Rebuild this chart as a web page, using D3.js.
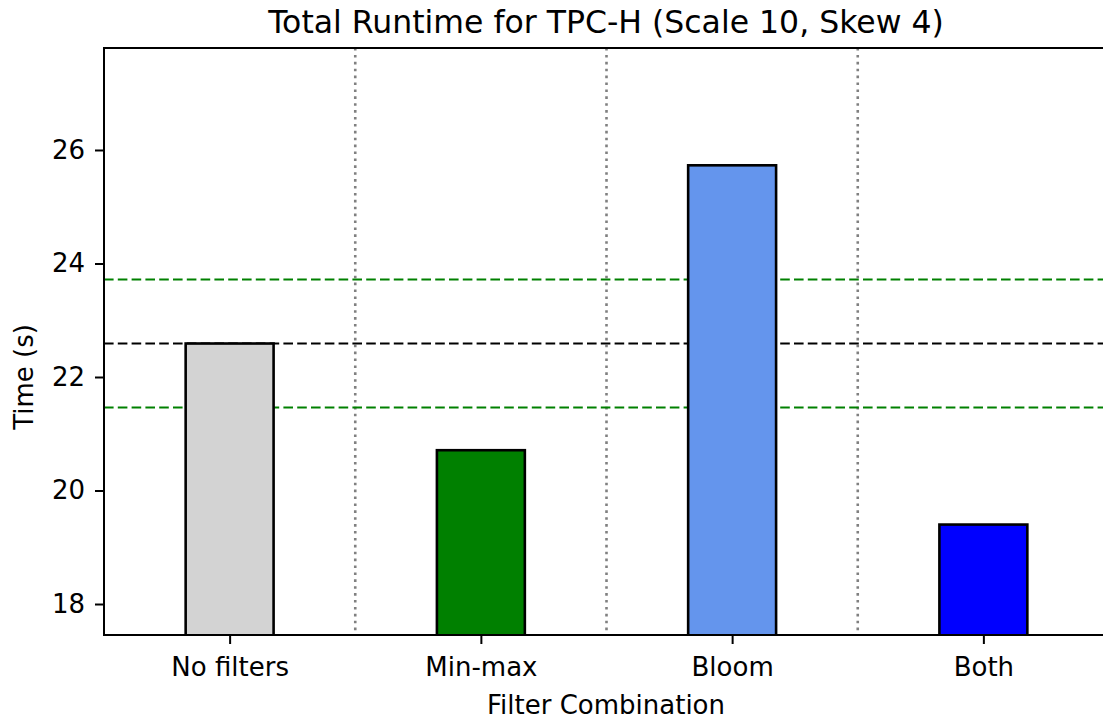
<!DOCTYPE html>
<html lang="en">
<head>
    <meta charset="UTF-8">
    <title>Total Runtime for TPC-H</title>
    <script type="application/javascript" src="https://cdnjs.cloudflare.com/ajax/libs/d3/7.8.5/d3.min.js"></script>
    <style type="text/css">
        body { margin: 0; background: #fff; }
        text { font-family: "DejaVu Sans", sans-serif; fill: #000; }
        .axis path { display: none; }
        .axis line { stroke: #000; stroke-width: 2; }
    </style>
</head>
<body>
<svg width="1103" height="719"></svg>
<script type="application/javascript">
    var CATEGORIES = ['No filters', 'Min-max', 'Bloom', 'Both'];
    var RUNTIMES = [22.59, 20.71, 25.73, 19.40];
    var BAR_COLORS = ['#d3d3d3', '#008000', '#6495ed', '#0000ff'];
    var Y_TICKS = [18, 20, 22, 24, 26];
    var BASELINE = RUNTIMES[0];
    var BAND = [BASELINE * 0.95, BASELINE * 1.05];

    var svg = d3.select("svg");
    var margin = {top: 48, right: -6, bottom: 84, left: 104};
    var width = +svg.attr("width") - margin.left - margin.right;
    var height = +svg.attr("height") - margin.top - margin.bottom;

    var x = d3.scaleLinear().domain([-0.5, CATEGORIES.length - 0.5]).range([0, width]);
    var y = d3.scaleLinear().domain([17.454, 27.797]).range([height, 0]);
    var barW = 0.35;

    var g = svg.append("g")
        .attr("transform", "translate(" + margin.left + "," + margin.top + ")");

    g.append("clipPath").attr("id", "plot-clip")
        .append("rect").attr("width", width).attr("height", height);

    var plot = g.append("g").attr("clip-path", "url(#plot-clip)");

    // dotted separators between groups
    plot.selectAll(".sep")
        .data(d3.range(CATEGORIES.length - 1))
        .enter().append("line")
        .attr("x1", function(d) { return x(d + 0.5); })
        .attr("x2", function(d) { return x(d + 0.5); })
        .attr("y1", 0).attr("y2", height)
        .attr("stroke", "#808080")
        .attr("stroke-width", 2.6)
        .attr("stroke-dasharray", "2.6,4.3");

    // baseline and +/-5% lines
    var refLines = [
        {v: BAND[1], c: "#008000"},
        {v: BASELINE, c: "#000"},
        {v: BAND[0], c: "#008000"}
    ];
    plot.selectAll(".ref")
        .data(refLines)
        .enter().append("line")
        .attr("x1", 0).attr("x2", width)
        .attr("y1", function(d) { return y(d.v); })
        .attr("y2", function(d) { return y(d.v); })
        .attr("stroke", function(d) { return d.c; })
        .attr("stroke-width", 2)
        .attr("stroke-dasharray", "9.6,4.2");

    plot.selectAll(".bar")
        .data(RUNTIMES)
        .enter().append("rect")
        .attr("x", function(d, i) { return x(i - barW / 2); })
        .attr("width", x(barW) - x(0))
        .attr("y", function(d) { return y(d); })
        .attr("height", function(d) { return height + 10 - y(d); })
        .attr("fill", function(d, i) { return BAR_COLORS[i]; })
        .attr("stroke", "#000")
        .attr("stroke-width", 2.6);

    // axes
    g.append("g")
        .attr("class", "axis")
        .attr("transform", "translate(0," + height + ")")
        .call(d3.axisBottom(x).tickValues(d3.range(CATEGORIES.length))
            .tickFormat(function(d) { return CATEGORIES[d]; })
            .tickSize(9).tickPadding(14))
        .selectAll("text").attr("font-size", 26).attr("font-family", "DejaVu Sans");

    g.append("g")
        .attr("class", "axis")
        .call(d3.axisLeft(y).tickValues(Y_TICKS).tickSize(9).tickPadding(10))
        .selectAll("text").attr("font-size", 26).attr("font-family", "DejaVu Sans");

    // spines
    g.append("rect")
        .attr("width", width).attr("height", height)
        .attr("fill", "none").attr("stroke", "#000").attr("stroke-width", 2);

    svg.append("text")
        .attr("x", 606).attr("y", 33)
        .attr("text-anchor", "middle")
        .attr("font-size", 31.5)
        .text("Total Runtime for TPC-H (Scale 10, Skew 4)");

    svg.append("text")
        .attr("x", 606).attr("y", 714)
        .attr("text-anchor", "middle")
        .attr("font-size", 26)
        .text("Filter Combination");

    svg.append("text")
        .attr("transform", "translate(33," + (margin.top + y(22)) + ") rotate(-90)")
        .attr("text-anchor", "middle")
        .attr("font-size", 26)
        .text("Time (s)");
</script>
</body>
</html>
